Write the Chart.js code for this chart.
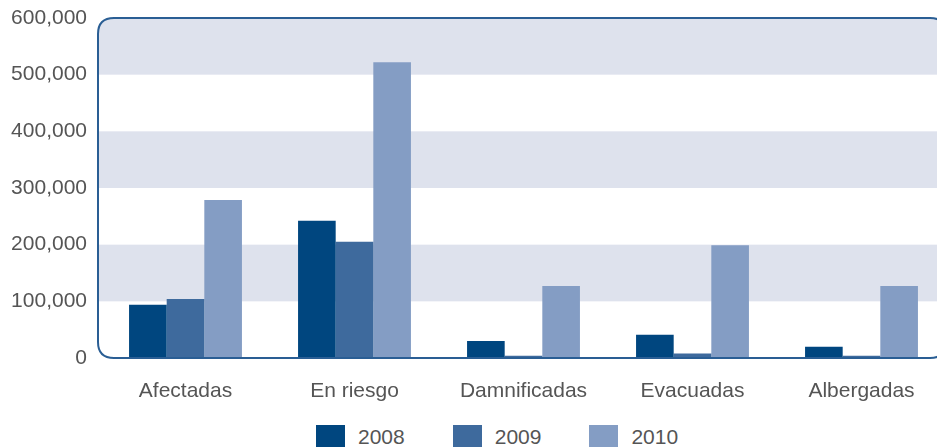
<!DOCTYPE html>
<html>
<head>
<meta charset="utf-8">
<script src="https://cdn.jsdelivr.net/npm/chart.js@4"></script>
<style>
  html, body { margin: 0; padding: 0; background: #fff; overflow: hidden; }
  #wrap { width: 948px; height: 410px; position: relative; }
  #legend {
    position: absolute; left: 316px; top: 425px;
    display: flex; align-items: flex-start;
    font-family: Arial, "Liberation Sans", sans-serif; font-size: 21px; color: #555;
  }
  .item { display: flex; align-items: center; height: 22px; }
  .box { width: 29px; height: 22px; margin-right: 13px; }
  .item + .item { margin-left: 48px; }
  .lbl { line-height: 22px; position: relative; top: 1px; }
</style>
</head>
<body>
<div id="wrap"><canvas id="chart"></canvas></div>
<div id="legend"></div>
<script>
// Data
const categories = ['Afectadas', 'En riesgo', 'Damnificadas', 'Evacuadas', 'Albergadas'];
const years = ['2008', '2009', '2010'];
const values2008 = [94000, 242000, 30000, 41000, 20000];
const values2009 = [104000, 205000, 4000, 8000, 4000];
const values2010 = [279000, 522000, 127000, 199000, 127000];
const yTicks = [0, 100000, 200000, 300000, 400000, 500000, 600000];

const colors = ['#00467F', '#3E6A9D', '#849DC4'];
const bandColor = '#DEE2ED';
const frameColor = '#2A5E94';
const textColor = '#555555';
const FONT = 'Arial, "Liberation Sans", sans-serif';

function roundedFrame(ctx, area, r) {
  const left = area.left - 3;
  const { top, right, bottom } = area;
  ctx.beginPath();
  ctx.moveTo(left + r, top);
  ctx.lineTo(right - r, top);
  ctx.quadraticCurveTo(right, top, right, top + r);
  ctx.lineTo(right, bottom - r);
  ctx.quadraticCurveTo(right, bottom, right - r, bottom);
  ctx.lineTo(left + r, bottom);
  ctx.quadraticCurveTo(left, bottom, left, bottom - r);
  ctx.lineTo(left, top + r);
  ctx.quadraticCurveTo(left, top, left + r, top);
  ctx.closePath();
}

// Alternating bands behind the bars, clipped to the rounded frame
const bandsPlugin = {
  id: 'bands',
  beforeDatasetsDraw(chart) {
    const { ctx, chartArea } = chart;
    const y = chart.scales.y;
    ctx.save();
    roundedFrame(ctx, chartArea, 16);
    ctx.clip();
    ctx.fillStyle = bandColor;
    for (let i = yTicks.length - 1; i > 0; i -= 2) {
      const top = y.getPixelForValue(yTicks[i]);
      const bottom = y.getPixelForValue(yTicks[i - 1]);
      ctx.fillRect(chartArea.left - 3, top, chartArea.right - chartArea.left + 3, bottom - top);
    }
    ctx.restore();
  },
  afterDatasetsDraw(chart) {
    const { ctx, chartArea } = chart;
    ctx.save();
    roundedFrame(ctx, chartArea, 16);
    ctx.lineWidth = 2;
    ctx.strokeStyle = frameColor;
    ctx.stroke();
    ctx.restore();
  }
};

const chart = new Chart(document.getElementById('chart'), {
  type: 'bar',
  data: {
    labels: categories,
    datasets: [values2008, values2009, values2010].map((vals, i) => ({
      label: years[i],
      data: vals,
      backgroundColor: colors[i],
      borderWidth: 0,
      categoryPercentage: 0.668,
      barPercentage: 1.0
    }))
  },
  options: {
    responsive: true,
    maintainAspectRatio: false,
    animation: false,
    layout: { padding: { top: 18, right: 2, left: 0, bottom: 0 } },
    plugins: {
      tooltip: { enabled: false },
      legend: { display: false }
    },
    scales: {
      x: {
        grid: { display: false, drawTicks: false },
        border: { display: false },
        ticks: {
          color: textColor,
          font: { family: FONT, size: 21 },
          padding: 21,
          maxRotation: 0
        },
        afterFit(scale) { scale.height = 52; }
      },
      y: {
        min: 0,
        max: 600000,
        afterBuildTicks(scale) { scale.ticks = yTicks.map(v => ({ value: v })); },
        grid: { display: false, drawTicks: false },
        border: { display: false },
        ticks: {
          color: textColor,
          // small lineHeight keeps the axis from pushing the plot area down
          font: { family: FONT, size: 21, lineHeight: 0.3 },
          padding: 14,
          callback: v => v === 0 ? '0' : v.toLocaleString('en-US')
        },
        afterFit(scale) { scale.width = 101; }
      }
    }
  },
  plugins: [bandsPlugin]
});

// HTML legend built from the datasets
document.getElementById('legend').innerHTML = chart.data.datasets.map(ds => `
  <div class="item"><span class="box" style="background:${ds.backgroundColor}"></span><span class="lbl">${ds.label}</span></div>
`).join('');
</script>
</body>
</html>
